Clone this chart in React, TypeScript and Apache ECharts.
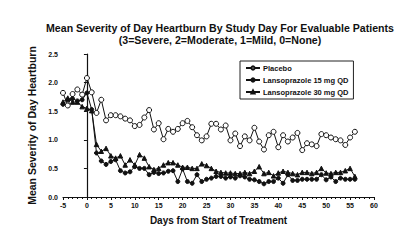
import React, { useEffect, useRef } from "react";
import * as echarts from "echarts";

const days = [-5, -4, -3, -2, -1, 0, 1, 2, 3, 4, 5, 6, 7, 8, 9, 10, 11, 12, 13, 14, 15, 16, 17, 18, 19, 20, 21, 22, 23, 24, 25, 26, 27, 28, 29, 30, 31, 32, 33, 34, 35, 36, 37, 38, 39, 40, 41, 42, 43, 44, 45, 46, 47, 48, 49, 50, 51, 52, 53, 54, 55, 56];

const placebo = [1.82, 1.6, 1.8, 1.88, 1.79, 2.08, 1.83, 1.47, 1.7, 1.34, 1.43, 1.43, 1.41, 1.37, 1.34, 1.24, 1.26, 1.39, 1.52, 1.18, 1.29, 1.01, 1.19, 1.14, 1.19, 1.29, 1.33, 1.22, 1.08, 0.99, 1.06, 1.28, 1.28, 1.18, 1.25, 0.99, 1.11, 0.89, 1.06, 0.99, 1.21, 0.97, 0.83, 1.08, 1.14, 0.87, 1.08, 0.97, 1.04, 1.12, 0.82, 0.94, 0.92, 0.89, 1.1, 1.08, 1.04, 1.01, 0.99, 0.91, 1.04, 1.14];

const lanso15 = [1.62, 1.7, 1.72, 1.68, 1.7, 1.82, 1.53, 0.77, 0.63, 0.57, 0.62, 0.65, 0.46, 0.42, 0.44, 0.53, 0.5, 0.5, 0.39, 0.43, 0.41, 0.42, 0.45, 0.46, 0.27, 0.49, 0.27, 0.24, 0.39, 0.27, 0.31, 0.33, 0.36, 0.36, 0.33, 0.35, 0.33, 0.37, 0.35, 0.31, 0.3, 0.27, 0.23, 0.27, 0.27, 0.33, 0.24, 0.39, 0.29, 0.29, 0.31, 0.31, 0.31, 0.31, 0.39, 0.3, 0.35, 0.27, 0.33, 0.31, 0.31, 0.31];

const lanso30 = [1.66, 1.73, 1.66, 1.66, 1.58, 1.55, 1.51, 0.92, 0.8, 0.85, 0.72, 0.68, 0.72, 0.56, 0.65, 0.56, 0.74, 0.68, 0.53, 0.48, 0.5, 0.56, 0.6, 0.6, 0.56, 0.52, 0.52, 0.5, 0.5, 0.58, 0.55, 0.5, 0.45, 0.43, 0.42, 0.42, 0.41, 0.41, 0.43, 0.41, 0.45, 0.53, 0.41, 0.43, 0.37, 0.42, 0.45, 0.43, 0.41, 0.39, 0.43, 0.43, 0.41, 0.43, 0.5, 0.42, 0.41, 0.43, 0.43, 0.46, 0.5, 0.36];

const seriesNames = ["Placebo", "Lansoprazole 15 mg QD", "Lansoprazole 30 mg QD"];
const titleLines = [
  "Mean Severity of Day Heartburn By Study Day For Evaluable Patients",
  "(3=Severe, 2=Moderate, 1=Mild, 0=None)",
];
const xAxisName = "Days from Start of Treatment";
const yAxisName = "Mean Severity of Day Heartburn";

const FONT = "'Liberation Sans', Arial, Helvetica, sans-serif";
const INK = "#111";

export default function App() {
  const ref = useRef<HTMLDivElement>(null);
  useEffect(() => {
    if (!ref.current) return;
    const chart = echarts.init(ref.current, undefined, { renderer: "svg" });
    const pair = (vals: number[]) => days.map((d, i) => [d, vals[i]]);
    const common = {
      type: "line" as const,
      color: INK,
      lineStyle: { color: INK, width: 1 },
      itemStyle: { color: INK, borderColor: INK, borderWidth: 1 },
    };
    chart.setOption({
      animation: false,
      backgroundColor: "#fff",
      textStyle: { fontFamily: FONT },
      title: {
        text: titleLines.join("\n"),
        left: 215,
        top: 17,
        textAlign: "center",
        textStyle: {
          fontFamily: FONT,
          fontSize: 10.6,
          fontWeight: "bold",
          color: INK,
          lineHeight: 12,
        },
      },
      legend: {
        orient: "vertical",
        left: 240,
        top: 61,
        padding: [3, 5, 3, 5],
        itemGap: 4,
        itemWidth: 14,
        itemHeight: 4,
        borderColor: "#222",
        borderWidth: 1,
        data: seriesNames,
        textStyle: {
          fontFamily: FONT,
          fontSize: 7.5,
          fontWeight: "bold",
          color: INK,
          padding: [0, 0, 0, -2],
        },
      },
      grid: { left: 63, right: 26, top: 54, bottom: 47 },
      xAxis: {
        type: "value",
        min: -5,
        max: 60,
        interval: 5,
        name: xAxisName,
        nameLocation: "middle",
        nameGap: 18,
        nameTextStyle: { fontFamily: FONT, fontSize: 10, fontWeight: "bold", color: INK },
        axisLine: { lineStyle: { color: INK, width: 1.2 } },
        axisTick: { length: 3, lineStyle: { color: INK } },
        minorTick: { show: true, splitNumber: 5, length: 2, lineStyle: { color: INK } },
        axisLabel: { fontFamily: FONT, fontSize: 7, fontWeight: "bold", color: INK, margin: 5 },
        splitLine: { show: false },
      },
      yAxis: {
        type: "value",
        min: 0,
        max: 2.5,
        interval: 0.5,
        name: yAxisName,
        nameLocation: "middle",
        nameGap: 24,
        nameTextStyle: { fontFamily: FONT, fontSize: 10.5, fontWeight: "bold", color: INK },
        axisLine: { show: true, lineStyle: { color: INK, width: 1.2 } },
        axisTick: { show: true, length: 3, lineStyle: { color: INK } },
        axisLabel: {
          fontFamily: FONT,
          fontSize: 7,
          fontWeight: "bold",
          color: INK,
          margin: 5,
          formatter: (v: number) => v.toFixed(1),
        },
        splitLine: { show: false },
      },
      series: [
        {
          ...common,
          name: seriesNames[0],
          data: pair(placebo),
          symbol: "circle",
          symbolSize: 5,
          itemStyle: { color: "#fff", borderColor: INK, borderWidth: 1 },
        },
        {
          ...common,
          name: seriesNames[1],
          data: pair(lanso15),
          symbol: "circle",
          symbolSize: 4,
        },
        {
          ...common,
          name: seriesNames[2],
          data: pair(lanso30),
          symbol: "triangle",
          symbolSize: 4.5,
        },
      ],
    });
    return () => chart.dispose();
  }, []);
  return (
    <div
      ref={ref}
      style={{ position: "fixed", left: 0, top: 0, width: 400, height: 244 }}
    />
  );
}
